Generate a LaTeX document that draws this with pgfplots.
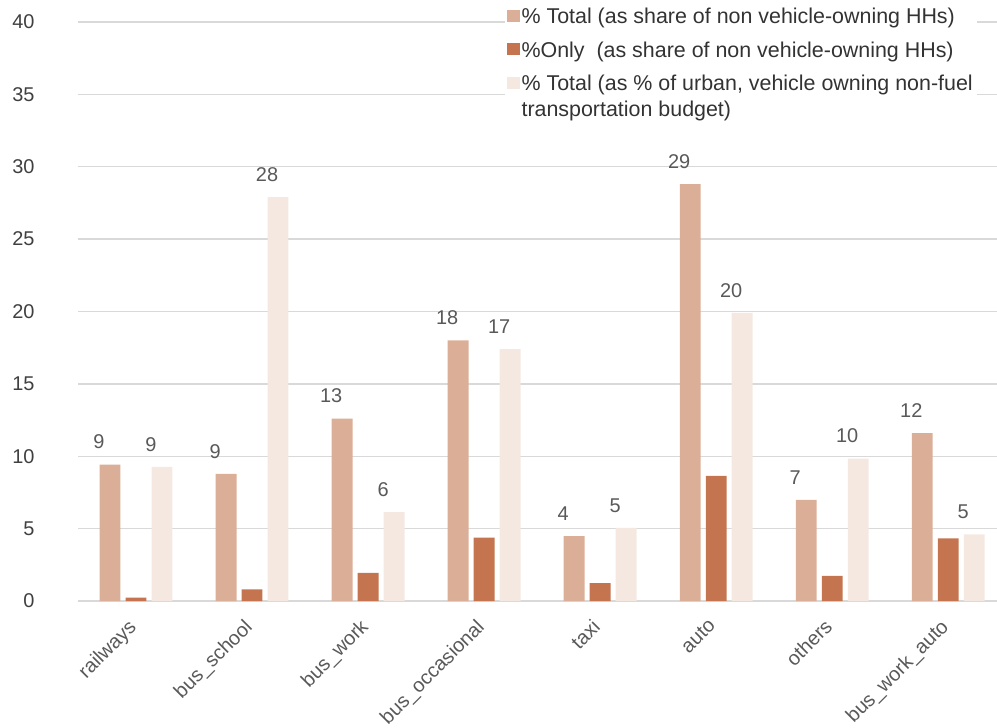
\documentclass[border=0pt]{standalone}
\usepackage{fontspec}
\setmainfont{Liberation Sans}
\usepackage{pgfplots}
\pgfplotsset{compat=1.18}
\definecolor{cA}{HTML}{DBAF97}
\definecolor{cB}{HTML}{C47550}
\definecolor{cC}{HTML}{F5E8E0}
\definecolor{gridc}{HTML}{D9D9D9}
\definecolor{txt}{HTML}{595959}
\definecolor{ytxt}{HTML}{404040}
\definecolor{legtxt}{HTML}{333333}
\pgfplotsset{
  sqlegend/.style={legend image code/.code={\fill[##1] (0bp,2bp) rectangle (13bp,14bp);}},
  lbl/.style={nodes near coords={\pgfmathprintnumber[fixed,precision=0]{\pgfplotspointmeta}},
    every node near coord/.append style={font=\fontsize{20}{24}\selectfont, text=txt, xshift=#1, yshift=12bp, anchor=south}},
}
\begin{document}
\begin{tikzpicture}
\begin{axis}[
  at={(0,0)}, anchor=south west,
  scale only axis, width=919bp, height=579bp,
  xmin=-0.5, xmax=7.42, ymin=0, ymax=40,
  ytick={0,5,...,40},
  xtick={0,...,7},
  xticklabels={railways,bus\_school,bus\_work,bus\_occasional,taxi,auto,others,bus\_work\_auto},
  axis line style={draw=none},
  major tick length=0pt,
  ymajorgrids,
  grid style={draw=gridc, line width=1.3bp},
  /pgf/number format/assume math mode=true,
  yticklabel style={font=\fontsize{20}{24}\selectfont, text=ytxt, xshift=-40bp},
  xticklabel style={font=\fontsize{20}{24}\selectfont, text=txt, xshift=-9bp, yshift=-12bp, rotate=45, anchor=north east},
  legend style={at={(rel axis cs:1,1)}, anchor=north east, xshift=-20bp, yshift=18bp,
    draw=none, fill=white, font=\fontsize{21.5}{26}\selectfont, text=legtxt,
    cells={anchor=base west}, row sep=12.5bp, inner sep=2bp},
]
\addplot[ybar, fill=cA, draw=none, bar width=0.18, bar shift=-0.224, sqlegend, lbl=-37bp] coordinates {
 (0,9.42) (1,8.78) (2,12.6) (3,18.0) (4,4.49) (5,28.8) (6,6.99) (7,11.6)};
\addlegendentry{\% Total (as share of non vehicle-owning HHs)}
\addplot[ybar, fill=cB, draw=none, bar width=0.18, bar shift=0, sqlegend] coordinates {
 (0,0.24) (1,0.81) (2,1.95) (3,4.38) (4,1.23) (5,8.64) (6,1.74) (7,4.33)};
\addlegendentry{\%Only\ \ (as share of non vehicle-owning HHs)}
\addplot[ybar, fill=cC, draw=none, bar width=0.18, bar shift=0.224, sqlegend, lbl=15bp] coordinates {
 (0,9.26) (1,27.9) (2,6.14) (3,17.4) (4,5.05) (5,19.9) (6,9.84) (7,4.61)};
\addlegendentry{\vtop{\baselineskip=26bp\hbox{\% Total (as \% of urban, vehicle owning non-fuel}\hbox{transportation budget)}}}
\end{axis}
\pgfresetboundingbox
\path[use as bounding box] (-78bp,-127bp) rectangle (919bp,601bp);
\end{tikzpicture}
\end{document}
